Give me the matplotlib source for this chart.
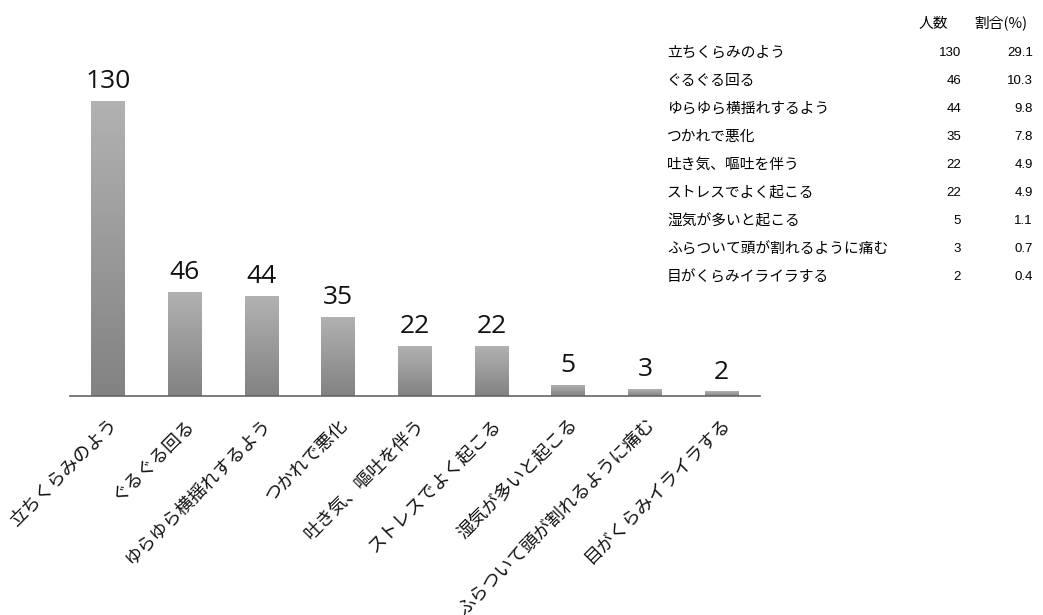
import matplotlib
matplotlib.use('Agg')
import matplotlib.pyplot as plt
import numpy as np

plt.rcParams['font.family'] = ['Noto Sans CJK JP', 'DejaVu Sans']

# データ
categories = ['立ちくらみのよう', 'ぐるぐる回る', 'ゆらゆら横揺れするよう', 'つかれで悪化',
              '吐き気、嘔吐を伴う', 'ストレスでよく起こる', '湿気が多いと起こる',
              'ふらついて頭が割れるように痛む', '目がくらみイライラする']
counts = [130, 46, 44, 35, 22, 22, 5, 3, 2]
percents = ['29.1', '10.3', '9.8', '7.8', '4.9', '4.9', '1.1', '0.7', '0.4']

W, H = 1043, 615
fig = plt.figure(figsize=(W / 100, H / 100), dpi=100)
fig.patch.set_facecolor('white')

# 棒グラフの領域
ax = fig.add_axes([70 / W, (H - 396) / H, 690 / W, 396 / H])
x = np.arange(len(categories))
ax.set_xlim(-0.5, len(categories) - 0.5)
ax.set_ylim(0, 130 * 396 / 295)

bars = ax.bar(x, counts, width=0.44, color='none', edgecolor='none')

# グラデーション（上が明るく、下が暗い）
grad = np.linspace(0, 1, 256).reshape(-1, 1)
cmap = matplotlib.colors.LinearSegmentedColormap.from_list('g', ['#828282', '#b2b2b2'])
for b in bars:
    x0, y0 = b.get_x(), b.get_y()
    w, h = b.get_width(), b.get_height()
    im = ax.imshow(grad, extent=[x0, x0 + w, y0, y0 + h], origin='lower',
                   cmap=cmap, aspect='auto', zorder=2)
    im.set_clip_path(b)

for xi, v in zip(x, counts):
    ax.text(xi, v + 5.7, str(v), ha='center', va='baseline', fontsize=19,
            family=['Open Sans', 'DejaVu Sans'], color='#111111')

for s in ['top', 'right', 'left']:
    ax.spines[s].set_visible(False)
ax.spines['bottom'].set_color('#666666')
ax.spines['bottom'].set_linewidth(1.2)
ax.set_yticks([])
ax.set_xticks(x)
ax.set_xticklabels(categories, rotation=45, ha='right', rotation_mode='anchor',
                   fontsize=13, color='#111111')
ax.tick_params(axis='x', length=0, pad=14)

# 右上の表
tk = dict(va='center', color='#000000')
num_font = ['Liberation Sans', 'DejaVu Sans']
fig.text(933 / W, 1 - 23 / H, '人数', ha='center', fontsize=10.6, **tk)
fig.text(1001 / W, 1 - 23 / H, '割合(%)', ha='center', fontsize=10.6, **tk)
for i, (c, n, p) in enumerate(zip(categories, counts, percents)):
    y = 1 - (53 + i * 28) / H
    fig.text(667 / W, y, c, ha='left', fontsize=10.6, **tk)
    fig.text(961 / W, y, str(n), ha='right', family=num_font, fontsize=9.5, **tk)
    fig.text(1033 / W, y, p, ha='right', family=num_font, fontsize=9.5, **tk)

fig.savefig('out.png', dpi=100)
